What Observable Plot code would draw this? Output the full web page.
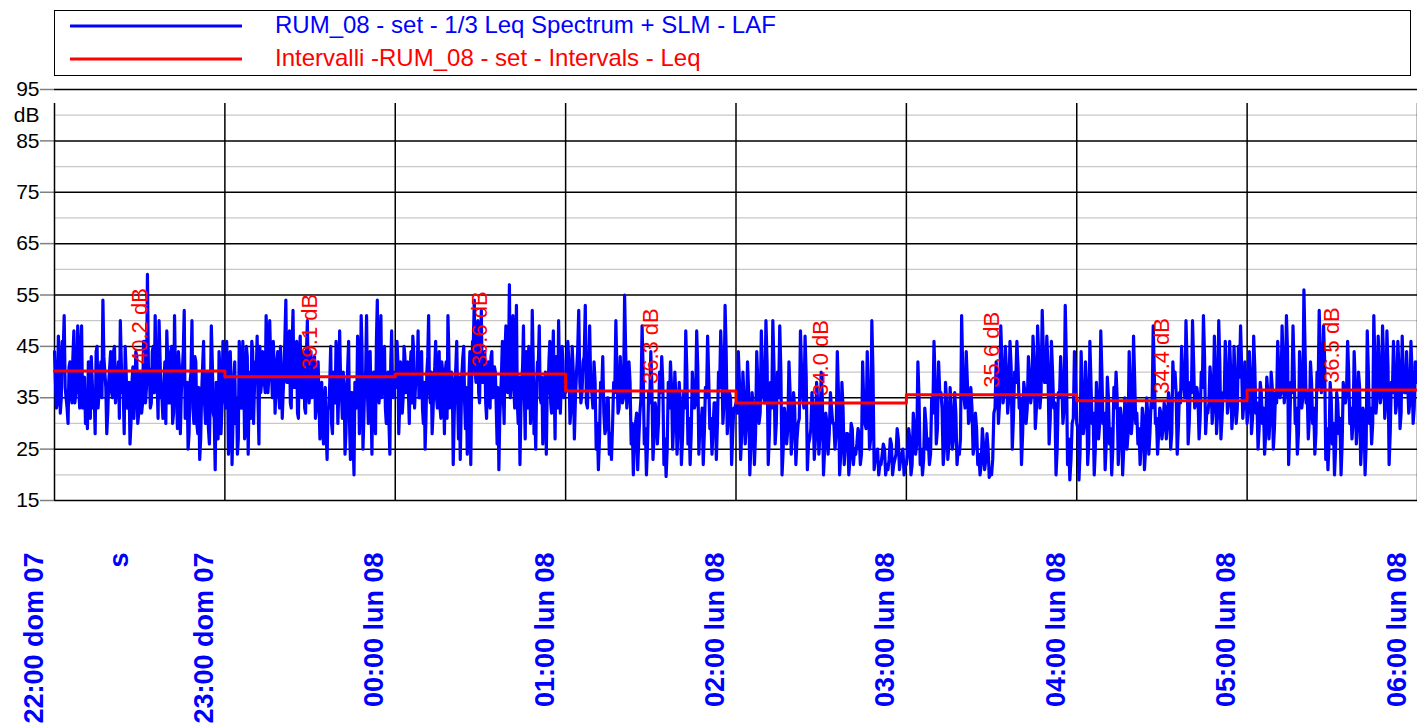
<!DOCTYPE html>
<html><head><meta charset="utf-8">
<script src="https://cdn.jsdelivr.net/npm/d3@7"></script>
<script src="https://cdn.jsdelivr.net/npm/@observablehq/plot@0.6"></script>
<style>
body{margin:0;background:#fff;font-family:"Liberation Sans",Arial,sans-serif;}
svg{display:block;overflow:visible}
</style></head><body>
<svg id="legend" width="1417" height="77"></svg>
<div id="chart"></div>
<script>
// ---- data ----
const hourTicks = ["2020-06-07T22:00Z","2020-06-07T23:00Z","2020-06-08T00:00Z","2020-06-08T01:00Z","2020-06-08T02:00Z","2020-06-08T03:00Z","2020-06-08T04:00Z","2020-06-08T05:00Z","2020-06-08T06:00Z"];
const hourLabels = ["22:00 dom 07","23:00 dom 07","00:00 lun 08","01:00 lun 08","02:00 lun 08","03:00 lun 08","04:00 lun 08","05:00 lun 08","06:00 lun 08"];
const yTicks = [15,25,35,45,55,65,75,85,95];
const yMinor = [20,30,40,50,60,70,80,90];
const yUnit = "dB";
const xUnit = "s";
const seriesNames = ["RUM_08 - set - 1/3 Leq Spectrum + SLM - LAF", "Intervalli -RUM_08 - set - Intervals - Leq"];
const intervalLeq = [40.2,39.1,39.6,36.3,34.0,35.6,34.4,36.5];

// LAF peaks/troughs per hour
const laf22 = [44,33,47,32,46,51,35,30,42,34,48,36,49,33,49,38,30,29,40,43,33,28,45,36,42,54,40,28,38,44,35,45,37,42,50,36,28,40,33,26,38,31,44,30,40,32,46,34,59,40,34,45,51,38,50,35,31,42,48,34,44,30,51,36,44,28,40,52,33,25,38,50,30,42,28,23,36,46,30,40,26,49,32,21,35,44,28,46];
const laf23 = [35,46,24,44,22,38,30,24,46,33,46,27,45,24,40,46,30,42,47,26,36,44,38,51,36,50,40,46,32,42,36,45,31,40,54,38,48,33,52,37,46,31,47,35,44,32,50,34,44,36,43,33,42,27,38,26,37,23,33,45,28,38,46,30,48,36,40,24,36,46,23,36,20,34,47,28,51,25,38,51,30,44,24,40,28,54,34,51,38,45,30,40,24,48,35];
const laf00 = [40,46,28,42,32,45,36,42,30,44,47,33,40,48,35,44,30,25,40,51,34,28,38,46,33,44,31,40,28,42,51,33,40,22,38,46,27,23,40,45,29,24,39,22,46,54,38,50,34,52,38,44,31,42,33,44,36,40,26,21,35,46,30,49,36,57,38,51,33,53,30,22,38,49,27,40,45,30,52,28,25,42,49,34,26,38,24,36,46,32,48,27,40,50,32,45,35];
const laf01 = [36,46,30,45,27,40,52,34,42,53,33,49,36,42,25,21,38,43,28,35,24,23,38,50,32,43,34,55,33,42,26,20,30,21,32,49,26,20,36,44,23,34,26,40,43,22,19.7,38,42,25,40,24,38,22,36,48,26,22,40,33,48,24,30,22,37,47,29,24,34,23,40,48,30,53,28,36,22,33];
const laf02 = [34,44,23,40,26,42,20,36,22,44,30,48,35,50,22,38,50,26,40,49,20,33,26,42,24,36,22,30,48,35,47,21,27,36,23,38,24,40,20,32,24,36,30,25,44,20,38,22,28,20,30,22,24,29,22,42,30,44,25,50,21,24,20,22,26,20,21,27,20,23,29,21,24,20];
const laf03 = [22,29,20,32,24,42,22,20,33,25,22,35,46,26,42,36,22,38,23,37,25,36,22,24,51,35,44,30,37,24,32,22,20,29,21,28,19.5,20,32,42,30,49,34,45,32,46,25,40,46,33,22,38,30,43,34,47,29,49,33,52,38,47,26,46,33,20,36,43,30,53,22,19,30,44];
const laf04 = [30,19,44,28,42,22,46,30,20,38,27,48,30,21,39,26,20,37,40,22,33,20,35,25,44,28,47,30,26,22,33,21,35,24,34,49,30,24,33,27,34,27,36,25,42,40,24,36,45,37,50,26,38,50,33,37,27,40,51,28,32,41,30,47,28,50,27,36,46,32,46,29,45,30,45,49,31,42];
const laf05 = [30,44,28,47,32,25,38,30,24,39,27,40,25,36,46,35,49,34,51,22,38,49,30,24,44,33,56,34,27,42,30,24,40,52,36,49,23,21,38,26,20,36,28,20,38,34,46,30,27,44,26,40,22,33,20,48,30,26,51,32,47,34,49,31,48,22,38,46,32,46,29,47,36,44,32,46,30,42];

// LAF dense core of the trace between the peaks, per hour
const core22 = [38,34,42,35,44,37,33,41,36,43,34,40,37,45,33,39,35,42,31,38,36,44,33,40,35,43,37,32,41,36,44,34,39,31,42,36,45,33,38,30,41,35,43,32,39,34,46,37,41,33,44,36,40,31,43,35,38,30,42,34,45,32,39,29,41,36,44,31,38,28,40,33,43,30,37,27,41,34,39,29,36,42,31,38,27,40,33,36];
const core23 = [33,40,28,38,30,42,35,27,41,33,39,29,43,36,31,44,37,40,34,45,38,42,36,46,39,43,35,41,37,44,33,40,36,47,38,42,34,45,37,41,32,43,36,39,33,44,37,40,35,42,31,38,34,36,29,34,28,33,38,30,40,34,42,36,39,31,37,28,41,30,36,27,38,33,42,35,44,31,40,36,43,34,39,32,46,37,44,35,41,33,38,30,42,36,39];
const core00 = [37,42,33,40,35,43,38,36,41,34,44,37,40,35,42,33,38,31,43,36,40,32,41,35,39,33,42,37,40,31,44,36,38,30,41,35,39,32,43,34,37,30,44,38,46,40,43,36,45,38,42,34,40,37,43,35,41,33,37,31,40,36,44,38,42,35,46,37,43,34,39,32,41,36,44,33,40,35,43,31,38,42,35,39,33,40,36,42,34,41,37,43,33,40,38,42,36];
const core01 = [38,42,33,40,35,44,38,36,43,34,40,37,33,38,30,27,36,32,29,35,28,30,36,40,33,38,35,44,36,38,30,26,32,27,35,40,29,26,34,37,28,32,30,36,38,27,25,33,37,30,35,29,34,27,33,40,31,28,36,34,41,30,33,28,35,39,31,29,34,30,37,42,34,44,32,35,28,33,31];
const core02 = [32,38,28,35,30,36,26,33,28,38,32,40,34,42,28,33,41,30,35,40,25,31,29,36,28,33,27,31,40,33,39,26,29,33,27,34,28,35,25,30,28,33,30,28,36,24,33,26,28,23,29,25,26,28,24,34,29,36,27,40,23,25,22,24,25,22,23,26,22,24,27,23,25,22];
const core03 = [24,27,22,29,26,35,25,23,30,27,24,32,38,29,36,33,25,34,26,33,27,32,25,27,40,33,38,31,33,26,29,24,22,26,23,25,21,23,33,38,34,42,36,40,35,41,31,38,41,35,28,36,33,39,36,42,33,43,36,44,38,41,31,40,34,25,35,38,33,42,27,23,31,38];
const core04 = [29,24,36,30,37,26,38,32,25,34,30,40,32,26,35,29,25,33,35,27,31,25,32,28,37,31,39,32,29,26,31,25,32,28,33,40,31,28,32,29,33,30,34,28,37,36,29,34,39,35,42,30,36,42,34,35,31,37,43,32,34,38,33,40,32,42,31,35,40,34,40,32,39,33,39,41,34,37];
const core05 = [33,39,31,41,34,29,36,33,28,36,31,37,29,34,40,36,42,37,44,29,36,41,33,28,39,35,45,36,31,38,33,28,37,43,37,42,29,26,35,30,25,34,31,26,35,36,40,33,30,38,30,37,27,32,26,40,33,30,42,35,41,36,42,34,41,28,36,40,34,41,32,39,36,38,34,40,33,38];

// ---- build tables ----
const BLUE = "#0000ff", RED = "#ff0000";
const hours = hourTicks.map(s => new Date(s));
const peakHours = [laf22, laf23, laf00, laf01, laf02, laf03, laf04, laf05];
const coreHours = [core22, core23, core00, core01, core02, core03, core04, core05];
const laf = [];
peakHours.forEach((arr, h) => {
  const core = coreHours[h];
  const seq = [];
  arr.forEach((v, i) => { seq.push(v); if (i < core.length) seq.push(core[i]); });
  const t0 = +hours[h], n = seq.length;
  seq.forEach((v, i) => laf.push({t: new Date(t0 + i / n * 3600000), v}));
});
laf.push({t: hours[8], v: laf05[laf05.length - 1]});
const steps = intervalLeq.map((v, i) => ({t: hours[i], v}));
steps.push({t: hours[8], v: intervalLeq[intervalLeq.length - 1]});
const labels = intervalLeq.map((v, i) => ({t: new Date((+hours[i] + +hours[i + 1]) / 2), v, s: v.toFixed(1) + " dB"}));

// ---- legend ----
const lg = d3.select("#legend");
lg.append("rect").attr("x", 54.5).attr("y", 10.5).attr("width", 1356).attr("height", 65)
  .attr("fill", "white").attr("stroke", "black").attr("stroke-width", 1);
[[BLUE, 26, 33], [RED, 59, 66]].forEach(([c, ly, ty], i) => {
  lg.append("line").attr("x1", 70).attr("x2", 242).attr("y1", ly).attr("y2", ly)
    .attr("stroke", c).attr("stroke-width", 3);
  lg.append("text").attr("x", 275).attr("y", ty).attr("fill", c)
    .attr("font-family", "Liberation Sans, Arial, sans-serif").attr("font-size", 24)
    .text(seriesNames[i]);
});

// ---- chart ----
const chart = Plot.plot({
  width: 1417, height: 647,
  marginLeft: 54, marginRight: 0, marginTop: 12, marginBottom: 224,
  style: {fontFamily: "Liberation Sans, Arial, sans-serif", background: "white", overflow: "visible"},
  x: {type: "utc", domain: [hours[0], hours[8]], axis: null},
  y: {domain: [15, 95], axis: null},
  marks: [
    Plot.ruleY(yMinor, {stroke: "#c8c8c8", strokeWidth: 1.2}),
    Plot.ruleY(yTicks, {stroke: "black", strokeWidth: 1.5}),
    Plot.ruleY(yTicks, {x1: hours[0], x2: hours[0], insetLeft: -14, stroke: "#808080", strokeWidth: 1.5}),
    Plot.ruleX(hours, {y1: 15, y2: 95, insetBottom: -14, stroke: "black", strokeWidth: 1.5}),
    Plot.line(laf, {x: "t", y: "v", stroke: BLUE, strokeWidth: 3.2, strokeLinejoin: "round"}),
    Plot.line(steps, {x: "t", y: "v", curve: "step-after", stroke: RED, strokeWidth: 3}),
    Plot.text(labels, {x: "t", y: "v", text: "s", rotate: -90, textAnchor: "start", dy: -7, fill: RED, fontSize: 22}),
    Plot.text(yTicks, {y: d => d, frameAnchor: "left", text: d => String(d), textAnchor: "end", dx: -15, fill: "black", fontSize: 21}),
    Plot.text([yUnit], {y: [90], frameAnchor: "left", text: d => d, textAnchor: "end", dx: -15, fill: "black", fontSize: 21}),
    Plot.text(hours, {x: d => d, frameAnchor: "bottom", text: (d, i) => hourLabels[i], rotate: -90, textAnchor: "end", dx: -12, dy: 52, fill: BLUE, fontWeight: "bold", fontSize: 27}),
    Plot.text([xUnit], {frameAnchor: "bottom-left", text: d => d, rotate: -90, textAnchor: "end", dx: 73, dy: 52, fill: BLUE, fontWeight: "bold", fontSize: 27})
  ]
});
document.getElementById("chart").append(chart);
</script>
</body></html>
